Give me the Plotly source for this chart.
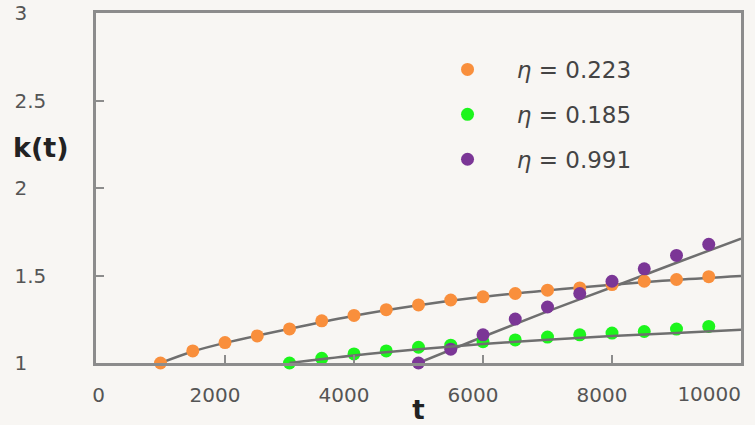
import plotly.graph_objects as go

# ---- data ----
orange_t = [1000, 1500, 2000, 2500, 3000, 3500, 4000, 4500, 5000, 5500, 6000, 6500, 7000, 7500, 8000, 8500, 9000, 9500]
orange_k = [1.0, 1.069, 1.117, 1.155, 1.195, 1.241, 1.272, 1.305, 1.332, 1.360, 1.378, 1.397, 1.416, 1.429, 1.448, 1.467, 1.477, 1.493]

green_t = [3000, 3500, 4000, 4500, 5000, 5500, 6000, 6500, 7000, 7500, 8000, 8500, 9000, 9500]
green_k = [1.0, 1.027, 1.052, 1.069, 1.090, 1.102, 1.122, 1.132, 1.148, 1.161, 1.171, 1.180, 1.194, 1.209]

purple_t = [5000, 5500, 6000, 6500, 7000, 7500, 8000, 8500, 9000, 9500]
purple_k = [1.0, 1.079, 1.161, 1.251, 1.320, 1.397, 1.467, 1.538, 1.615, 1.678]

# fitted curves
orange_fit_t = [1000, 1500, 2000, 3000, 4000, 5000, 6000, 7000, 8000, 9000, 10000]
orange_fit_k = [1.0, 1.066, 1.115, 1.195, 1.270, 1.330, 1.378, 1.415, 1.447, 1.475, 1.497]
green_fit_t = [3000, 4000, 5000, 6000, 7000, 8000, 9000, 10000]
green_fit_k = [1.0, 1.043, 1.078, 1.108, 1.133, 1.154, 1.172, 1.190]
purple_fit_t = [5000, 6000, 7000, 8000, 9000, 10000]
purple_fit_k = [1.0, 1.150, 1.295, 1.433, 1.573, 1.711]

series_names = ["\u2007\u2007<i>η</i> = 0.223", "\u2007\u2007<i>η</i> = 0.185", "\u2007\u2007<i>η</i> = 0.991"]

x_tick_vals = [0, 2000, 4000, 6000, 8000, 10000]
x_tick_text = ["\u2007\u2008\u20080", "2000", "4000", "6000", "8000", ""]
x_last_tick = [10000]
x_last_text = ["10000"]
y_tick_vals = [1, 1.5, 2, 2.5, 3]
y_tick_text = ["1\u2008\u2007", "1.5", "2\u2008\u2007", "2.5", "3\u2008\u2007"]

colors = ["#f98f3c", "#1cf51c", "#7b3696"]
line_color = "#6f6f6f"
font_family = "DejaVu Sans, sans-serif"

fig = go.Figure()

fits = [(orange_fit_t, orange_fit_k), (green_fit_t, green_fit_k), (purple_fit_t, purple_fit_k)]
for j, (ft, fk) in enumerate(fits):
    fig.add_trace(go.Scatter(x=ft, y=fk, mode="lines", line=dict(color=line_color, width=2.5, shape="spline"),
                             showlegend=False, hoverinfo="skip", cliponaxis=False,
                             xaxis="x2" if j == 1 else "x"))

for i, (t, k) in enumerate([(orange_t, orange_k), (green_t, green_k), (purple_t, purple_k)]):
    fig.add_trace(go.Scatter(x=t, y=k, mode="markers", name=series_names[i],
                             legendgroup=str(i), cliponaxis=False,
                             marker=dict(color=colors[i], size=13, line=dict(width=0))))

fig.update_layout(
    width=755, height=425,
    margin=dict(l=96, r=14, t=13, b=62, autoexpand=False),
    paper_bgcolor="#f8f6f3", plot_bgcolor="#f8f6f3",
    font=dict(family=font_family, color="#555555", size=20),
    showlegend=True,
    legend=dict(x=0.545, y=0.9, xanchor="left", yanchor="top",
                bgcolor="rgba(0,0,0,0)", tracegroupgap=12,
                font=dict(size=23, color="#444444", family=font_family),
                itemwidth=30),
    xaxis=dict(range=[0, 10000], tickvals=x_tick_vals, ticktext=x_tick_text, automargin=False,
               showgrid=False, zeroline=False, showline=True, linecolor="#8c8c8c", linewidth=2.5,
               mirror=True, ticks="inside", ticklen=8, tickcolor="#8c8c8c", tickwidth=2,
               ticklabeloverflow="allow", ticklabelshift=-10, ticklabelstandoff=12,
               tickfont=dict(size=20, color="#555555"),
               title=dict(text="<b>t</b>", font=dict(size=26, color="#222222"), standoff=0)),
    xaxis2=dict(range=[0, 10000], tickvals=x_last_tick, ticktext=x_last_text, automargin=False,
                overlaying="x", anchor="y", side="bottom",
                showgrid=False, zeroline=False, showline=False, ticks="",
                ticklabelposition="outside left", ticklabeloverflow="allow", ticklabelstandoff=17,
                tickfont=dict(size=20, color="#555555")),
    yaxis=dict(range=[1, 3], tickvals=y_tick_vals, ticktext=y_tick_text, automargin=False,
               showgrid=False, zeroline=False, showline=True, linecolor="#8c8c8c", linewidth=2.5,
               mirror=True, ticks="inside", ticklen=8, tickcolor="#8c8c8c", tickwidth=2,
               ticklabeloverflow="allow",
               tickfont=dict(size=20, color="#555555"), ticklabelstandoff=43),
)

fig.add_annotation(text="<b>k(t)</b>", xref="paper", yref="paper", x=-0.085, y=0.615,
                   xanchor="center", yanchor="middle", showarrow=False,
                   font=dict(size=27, color="#222222", family=font_family))

fig.write_html("out.html", config={"displayModeBar": False},
               post_script="document.body.style.margin='0';")
